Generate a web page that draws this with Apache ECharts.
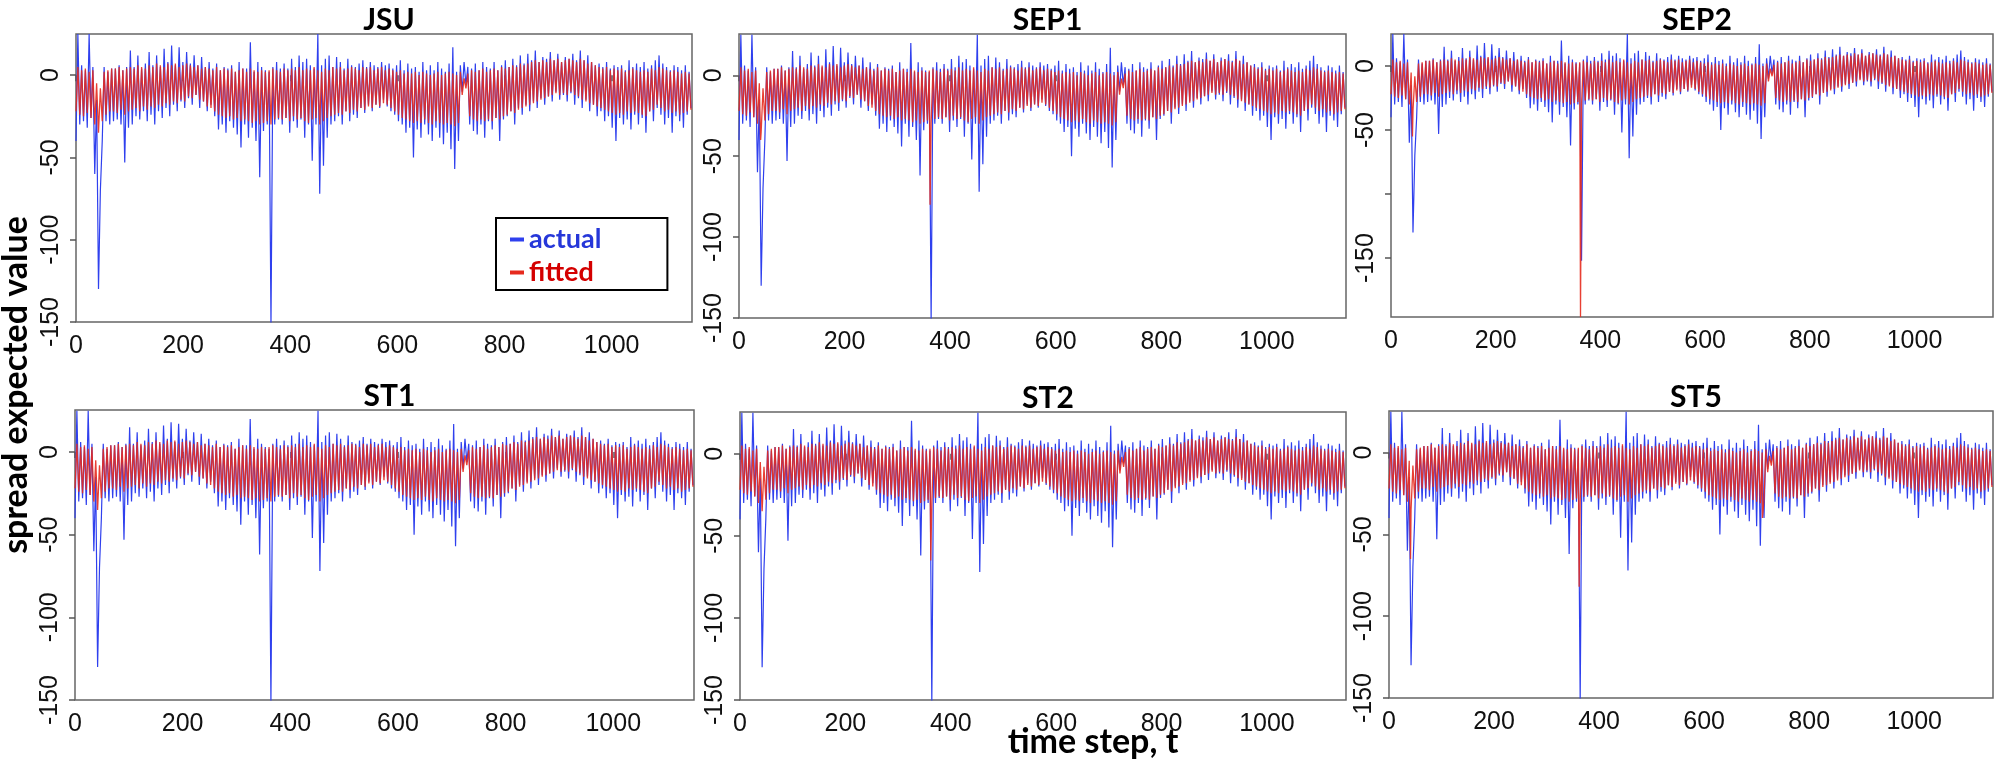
<!DOCTYPE html>
<html>
<head>
<meta charset="utf-8">
<script src="https://cdn.jsdelivr.net/npm/echarts@6/dist/echarts.min.js"></script>
<style>
  html, body { margin: 0; padding: 0; background: #fff; }
  #chart { width: 2000px; height: 768px; }
</style>
</head>
<body>
<div id="chart"></div>
<script>
// values at half-week resolution (t = i * tStep)
const tStep = 3.5;

const actualValues = [
  -40, 25, -30, 6, -28, 3, -32, 25, -26, 5,
  -60, -15, -130, -70, -40, 5, -28, 2, -30, 4,
  -28, 4, -27, 6, -30, 3, -53, 5, -32, 15,
  -30, 5, -25, 12, -27, 4, -22, 7, -28, 14,
  -24, 6, -30, 12, -22, 5, -26, 16, -20, 8,
  -25, 18, -18, 6, -22, 17, -16, 8, -20, 14,
  -14, 7, -18, 12, -12, 6, -20, 11, -16, 5,
  -22, 8, -18, 4, -25, 7, -33, 3, -30, 5,
  -35, 4, -28, 6, -32, 2, -36, 8, -44, 4,
  -30, 4, -38, 20, -32, 2, -40, 8, -62, 5,
  -34, 3, -30, 2, -152, 5, -30, 8, -27, 4,
  -30, 7, -26, 4, -35, 10, -28, 5, -32, 12,
  -27, 8, -38, 10, -30, 6, -52, 4, -30, 25,
  -72, 6, -55, 10, -38, 12, -30, 5, -28, 11,
  -25, 8, -30, 4, -22, 10, -28, 6, -24, 5,
  -26, 7, -20, 9, -23, 5, -18, 8, -22, 6,
  -18, 5, -20, 8, -15, 6, -19, 7, -22, 4,
  -24, 6, -28, 9, -30, 3, -35, 7, -32, 4,
  -50, 5, -33, 2, -38, 8, -30, 3, -36, 6,
  -40, 3, -32, 8, -38, 4, -42, 2, -35, 7,
  -45, 17, -57, 2, -40, 6, -10, 8, -6, 5,
  -30, 4, -34, 7, -36, 3, -30, 8, -38, 5,
  -28, 4, -33, 8, -26, 3, -40, 6, -27, 9,
  -25, 5, -22, 10, -30, 6, -20, 12, -24, 7,
  -18, 13, -22, 9, -16, 15, -20, 8, -14, 11,
  -18, 10, -13, 14, -16, 9, -10, 13, -15, 8,
  -12, 11, -16, 10, -11, 13, -18, 9, -14, 15,
  -20, 9, -15, 12, -22, 8, -18, 6, -25, 7,
  -22, 5, -28, 8, -25, 4, -32, 6, -40, 5,
  -26, 6, -30, 3, -27, 9, -33, 5, -24, 7,
  -30, 5, -26, 8, -35, 4, -22, 6, -28, 9,
  -20, 12, -24, 7, -30, 5, -26, 3, -35, 6,
  -25, 5, -28, 3, -32, 6, -24, 2, -20
];

const fittedValues = [
  -22, 5, -24, 3, -25, 4, -23, 2, -26, 3,
  -30, -5, -35, -8, -28, 2, -24, 3, -22, 4,
  -22, 4, -23, 5, -21, 3, -24, 4, -22, 5,
  -21, 4, -20, 6, -22, 5, -19, 4, -21, 6,
  -19, 5, -20, 7, -18, 6, -19, 5, -17, 7,
  -18, 6, -16, 7, -17, 5, -15, 6, -16, 7,
  -13, 6, -14, 5, -12, 6, -15, 4, -16, 5,
  -19, 4, -20, 3, -22, 5, -24, 3, -25, 4,
  -26, 3, -25, 4, -27, 2, -26, 3, -28, 4,
  -27, 2, -28, 4, -29, 3, -28, 2, -30, 3,
  -29, 2, -28, 3, -30, 4, -27, 3, -26, 2,
  -27, 4, -26, 3, -28, 4, -25, 3, -27, 5,
  -26, 3, -28, 4, -29, 3, -27, 5, -26, 3,
  -30, 2, -28, 4, -26, 3, -25, 5, -24, 4,
  -23, 5, -24, 3, -22, 4, -23, 5, -21, 4,
  -22, 3, -20, 5, -21, 4, -19, 5, -20, 3,
  -18, 4, -19, 5, -17, 3, -18, 4, -20, 3,
  -22, 2, -24, 3, -26, 1, -27, 2, -28, 1,
  -29, 2, -28, 0, -29, 2, -27, 1, -29, 0,
  -30, 1, -28, 2, -29, 0, -30, 1, -29, 2,
  -30, 1, -31, 0, -29, 2, -12, -2, -8, 1,
  -25, 3, -27, 2, -28, 3, -27, 4, -28, 2,
  -27, 3, -28, 4, -26, 3, -27, 5, -25, 4,
  -24, 5, -22, 6, -23, 5, -21, 7, -20, 6,
  -19, 7, -18, 8, -17, 9, -16, 8, -15, 9,
  -14, 8, -13, 10, -12, 9, -11, 10, -12, 8,
  -11, 9, -12, 10, -10, 9, -12, 8, -13, 10,
  -15, 9, -16, 7, -17, 8, -18, 6, -19, 5,
  -20, 4, -21, 5, -22, 3, -23, 4, -24, 3,
  -23, 4, -24, 2, -22, 3, -23, 4, -22, 3,
  -23, 2, -24, 3, -25, 2, -22, 4, -21, 3,
  -18, 5, -20, 4, -22, 3, -21, 2, -23, 3,
  -22, 2, -24, 1, -23, 2, -22, 1, -21
];

// model-specific departures of the fitted line: [t, value]
const jsuExtra = [];
const sep1Extra = [[41, -40], [362, -80]];
const sep2Extra = [[41, -55], [362, -196]];
const st1Extra = [];
const st2Extra = [[362, -65]];
const st5Extra = [[41, -65], [362, -82], [711, -40]];

const panelNames = ['JSU', 'SEP1', 'SEP2', 'ST1', 'ST2', 'ST5'];
const panelExtras = [jsuExtra, sep1Extra, sep2Extra, st1Extra, st2Extra, st5Extra];
const xTicks = [0, 200, 400, 600, 800, 1000];
const yTicks = [0, -50, -100, -150];

// layout of the six plot boxes
const boxes = [
  { left: 76, top: 34, width: 616, height: 288, ymin: -150, ymax: 25, yLabels: yTicks },
  { left: 739, top: 34, width: 607, height: 284, ymin: -150, ymax: 25.5, yLabels: yTicks },
  { left: 1391, top: 34, width: 602, height: 283, ymin: -196, ymax: 25, yLabels: [0, -50, -150] },
  { left: 75, top: 410, width: 619, height: 290, ymin: -150, ymax: 25.4, yLabels: yTicks },
  { left: 740, top: 412, width: 606, height: 288, ymin: -150, ymax: 25.4, yLabels: yTicks },
  { left: 1389, top: 411, width: 604, height: 287, ymin: -150, ymax: 25.4, yLabels: yTicks }
];

const blue = '#2f40ee';
const red = '#e62a1d';
const tickFont = { fontFamily: 'Liberation Sans', fontSize: 25, color: '#111' };

function toPairs(vals) {
  return vals.map((v, i) => [i * tStep, v]);
}

const actualData = toPairs(actualValues);
const fittedBase = toPairs(fittedValues);

const grid = [], xAxis = [], yAxis = [], series = [], title = [];

boxes.forEach((b, k) => {
  grid.push({
    left: b.left, top: b.top, width: b.width, height: b.height,
    show: true, borderColor: '#666', borderWidth: 1.5, backgroundColor: 'transparent'
  });
  xAxis.push({
    type: 'value', gridIndex: k, min: 0, max: 1150,
    axisLine: { show: false },
    axisTick: { show: true, inside: false, length: 6, customValues: xTicks, lineStyle: { color: '#555', width: 1.5 } },
    axisLabel: Object.assign({ margin: 12, customValues: xTicks, formatter: v => String(v) }, tickFont),
    splitLine: { show: false }
  });
  yAxis.push({
    type: 'value', gridIndex: k, min: b.ymin, max: b.ymax,
    axisLine: { show: false },
    axisTick: { show: true, inside: false, length: 6, customValues: yTicks, lineStyle: { color: '#555', width: 1.5 } },
    axisLabel: Object.assign({ margin: 12, rotate: 90, customValues: b.yLabels, formatter: v => String(v) }, tickFont),
    splitLine: { show: false }
  });
  title.push({
    text: panelNames[k],
    left: b.left + b.width / 2,
    top: b.top - 34,
    textAlign: 'center',
    textStyle: { fontFamily: 'Lato', fontWeight: 'bold', fontSize: 30, color: '#000' }
  });
  const fitted = fittedBase.concat(panelExtras[k]).sort((a, c) => a[0] - c[0]);
  series.push({
    name: 'actual', type: 'line', xAxisIndex: k, yAxisIndex: k,
    data: actualData, showSymbol: false, silent: true,
    lineStyle: { color: blue, width: 1.2 }, itemStyle: { color: blue }, z: 2
  });
  series.push({
    name: 'fitted', type: 'line', xAxisIndex: k, yAxisIndex: k,
    data: fitted, showSymbol: false, silent: true,
    lineStyle: { color: red, width: 1.3, opacity: 0.9 }, itemStyle: { color: red }, z: 3
  });
});

const chart = echarts.init(document.getElementById('chart'), null, { renderer: 'canvas' });
chart.setOption({
  animation: false,
  backgroundColor: '#fff',
  title: title,
  grid: grid,
  xAxis: xAxis,
  yAxis: yAxis,
  series: series,
  legend: {
    left: 496, top: 218,
    orient: 'vertical',
    selectedMode: false,
    backgroundColor: '#fff',
    borderColor: '#000', borderWidth: 2,
    padding: [8, 66, 4, 14],
    itemGap: 6,
    icon: 'rect', itemWidth: 14, itemHeight: 4,
    textStyle: { fontFamily: 'Lato', fontWeight: 'bold', fontSize: 27 },
    data: [
      { name: 'actual', textStyle: { color: '#2637d9' } },
      { name: 'fitted', textStyle: { color: '#d40000' } }
    ]
  },
  graphic: [
    {
      type: 'text', x: 16, y: 385, rotation: Math.PI / 2,
      style: { text: 'spread expected value', fontFamily: 'Lato', fontWeight: 'bold', fontSize: 34, fill: '#000', align: 'center', verticalAlign: 'middle' }
    },
    {
      type: 'text', x: 1093, y: 742,
      style: { text: 'time step, t', fontFamily: 'Lato', fontWeight: 'bold', fontSize: 34, fill: '#000', align: 'center', verticalAlign: 'middle' }
    }
  ]
});
</script>
</body>
</html>
